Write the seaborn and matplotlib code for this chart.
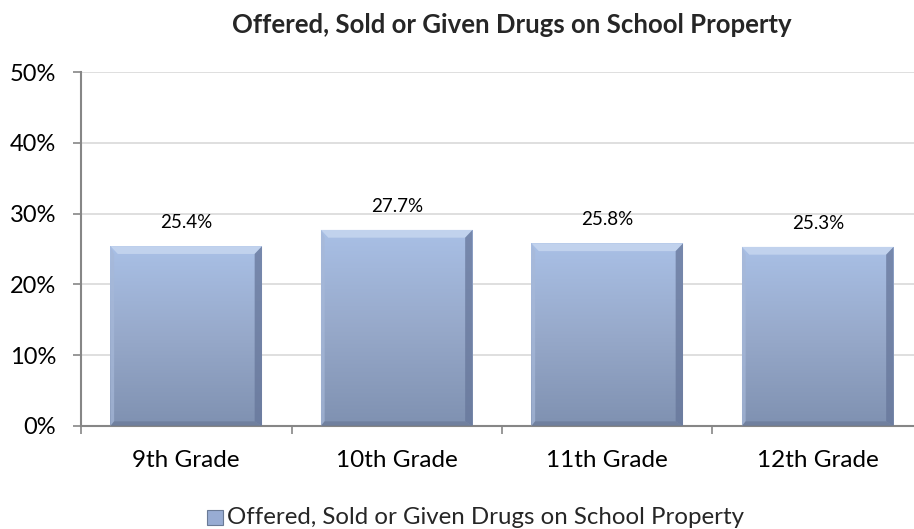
import numpy as np
import pandas as pd
import matplotlib
matplotlib.use("Agg")
import matplotlib.pyplot as plt
from matplotlib.patches import Rectangle, Polygon
from matplotlib.ticker import FuncFormatter
from matplotlib.colors import LinearSegmentedColormap
import seaborn as sns

grades = ["9th Grade", "10th Grade", "11th Grade", "12th Grade"]
percent = [25.4, 27.7, 25.8, 25.3]
series_name = "Offered, Sold or Given Drugs on School Property"
title = "Offered, Sold or Given Drugs on School Property"

sns.set_theme(style="white")
plt.rcParams["font.family"] = ["Lato", "DejaVu Sans"]

df = pd.DataFrame({"grade": grades, "pct": percent, "series": series_name})

fig = plt.figure(figsize=(9.14, 5.29), dpi=100)
ax = fig.add_axes([81 / 914, 1 - 426 / 529, 842 / 914, 354 / 529])

sns.barplot(data=df, x="grade", y="pct", hue="series", ax=ax, width=0.72,
            palette=["#98acd3"], legend=False, saturation=1)

ax.set_ylim(0, 50)
ax.set_xlim(-0.5, 3.5)
ax.set_yticks(np.arange(0, 51, 10))
ax.yaxis.set_major_formatter(FuncFormatter(lambda v, p: f"{v:.0f}%"))
ax.yaxis.grid(True, color="#d9d9d9", linewidth=1.2)
ax.set_axisbelow(True)
ax.set_xlabel("")
ax.set_ylabel("")

for side in ["top", "right"]:
    ax.spines[side].set_visible(False)
for side in ["left", "bottom"]:
    ax.spines[side].set_color("#868686")
    ax.spines[side].set_linewidth(1.5)

ax.set_xticks([-0.5, 0.5, 1.5, 2.5], minor=True)
ax.tick_params(axis="x", which="minor", length=6, width=1.2, color="#868686", bottom=True)
ax.tick_params(axis="x", which="major", length=0, labelsize=17.5, pad=17, colors="black")
ax.tick_params(axis="y", which="major", length=6, width=1.2, color="#868686", left=True,
               labelsize=17, pad=12, colors="black")

# gradient fill with bevelled edges on each bar
cmap = LinearSegmentedColormap.from_list("bar", ["#7f91b1", "#97a9ca", "#a9c0e6"])
grad = np.linspace(0, 1, 256).reshape(-1, 1)
bx = 0.035   # bevel width in data units (x)
by = 1.1     # bevel height in data units (y)
for patch, val in zip(ax.patches, percent):
    x0, y0 = patch.get_x(), patch.get_y()
    w, h = patch.get_width(), patch.get_height()
    patch.set_facecolor("none")
    patch.set_edgecolor("none")
    im = ax.imshow(grad, cmap=cmap, aspect="auto", origin="lower",
                   extent=[x0, x0 + w, y0, y0 + h], zorder=2)
    clip = Rectangle((x0, y0), w, h, transform=ax.transData, facecolor="none", edgecolor="none")
    ax.add_patch(clip)
    im.set_clip_path(clip)
    x1, y1 = x0 + w, y0 + h
    # top bevel (light)
    ax.add_patch(Polygon([(x0, y1), (x1, y1), (x1 - bx, y1 - by), (x0 + bx, y1 - by)],
                         closed=True, facecolor="#c6d6ef", edgecolor="none", alpha=0.85, zorder=3))
    # right bevel (dark)
    ax.add_patch(Polygon([(x1, y1), (x1, y0), (x1 - bx, y0 + by * 0.6), (x1 - bx, y1 - by)],
                         closed=True, facecolor="#66769a", edgecolor="none", alpha=0.75, zorder=3))
    # left bevel (slightly light)
    ax.add_patch(Polygon([(x0, y1), (x0, y0), (x0 + bx * 0.5, y0 + by * 0.6), (x0 + bx * 0.5, y1 - by)],
                         closed=True, facecolor="#a6b8d8", edgecolor="none", alpha=0.7, zorder=3))
    # bottom bevel (dark)
    ax.add_patch(Polygon([(x0, y0), (x1, y0), (x1 - bx, y0 + by * 0.6), (x0 + bx * 0.5, y0 + by * 0.6)],
                         closed=True, facecolor="#6a7a98", edgecolor="none", alpha=0.7, zorder=3))
    ax.text(x0 + w / 2, val + 2.1, f"{val:.1f}%", ha="center", va="bottom", fontsize=13.5, color="black")

ax.set_xlim(-0.5, 3.5)
ax.set_ylim(0, 50)

fig.text(512 / 914, 1 - 25 / 529, title, ha="center", va="center", fontsize=18.5, fontweight="bold")

# legend
fig.patches.append(Rectangle((207 / 914, 1 - 525 / 529), 16 / 914, 15 / 529,
                             transform=fig.transFigure, facecolor="#98acd3",
                             edgecolor="#6a7a96", linewidth=0.8))
fig.text(227 / 914, 1 - 517 / 529, series_name, ha="left", va="center", fontsize=17.3)

fig.savefig("out.png", dpi=100)
